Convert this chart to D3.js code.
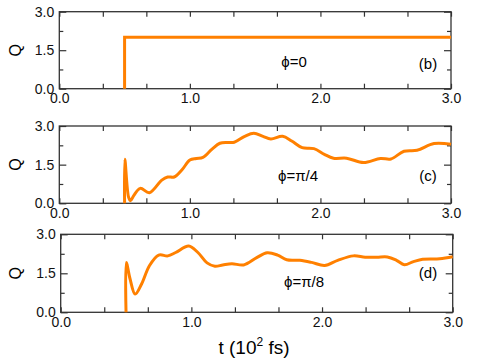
<!DOCTYPE html>
<html>
<head>
<meta charset="utf-8">
<script src="https://cdn.jsdelivr.net/npm/d3@7"></script>
<style>
	body { margin: 0; background: #fff; }
	svg { display: block; font-family: "Liberation Sans", Arial, sans-serif; }
	.axis path { display: none; }
	.axis line { stroke: #333; stroke-width: 1.2; }
	.axis text { font-size: 14px; fill: #111; }
</style>
</head>
<body>
<svg id="chart"></svg>
<script>
// panel (b): phi = 0, a step
const tB = [0.5, 0.5, 3.0];
const qB = [0, 2.0, 2.0];

// panel (c): phi = pi/4
const tC = [0.5, 0.502, 0.53, 0.545, 0.57, 0.62, 0.69, 0.785, 0.83, 0.88, 0.94, 1.0, 1.05, 1.1, 1.17, 1.23, 1.29, 1.34, 1.42, 1.49, 1.56, 1.62, 1.71, 1.78, 1.86, 1.95, 2.03, 2.1, 2.2, 2.33, 2.46, 2.54, 2.64, 2.74, 2.87, 3.0];
const qC = [0, 1.71, 0.25, 0.1, 0.3, 0.58, 0.41, 0.9, 1.02, 1.02, 1.3, 1.68, 1.74, 1.78, 2.1, 2.33, 2.36, 2.37, 2.6, 2.72, 2.6, 2.5, 2.6, 2.42, 2.16, 2.12, 1.9, 1.75, 1.75, 1.58, 1.74, 1.72, 2.02, 2.06, 2.32, 2.29];

// panel (d): phi = pi/8
const tD = [0.5, 0.502, 0.53, 0.57, 0.62, 0.68, 0.75, 0.82, 0.88, 0.98, 1.05, 1.12, 1.18, 1.24, 1.31, 1.4, 1.5, 1.58, 1.66, 1.73, 1.83, 1.92, 2.02, 2.12, 2.24, 2.33, 2.42, 2.5, 2.57, 2.63, 2.7, 2.77, 2.9, 3.0];
const qD = [0, 1.92, 1.3, 0.7, 1.1, 1.8, 2.2, 2.17, 2.3, 2.55, 2.3, 1.9, 1.77, 1.82, 1.87, 1.82, 2.1, 2.29, 2.2, 2.02, 2.0, 1.92, 1.8, 2.0, 2.17, 2.12, 2.12, 2.13, 2.0, 1.83, 1.95, 2.04, 2.06, 2.14];

const xMajor = [0, 1, 2, 3];
const xMinor = [1 / 3, 2 / 3, 4 / 3, 5 / 3, 7 / 3, 8 / 3];
const yMajor = [0, 1.5, 3];
const yMinor = [0.75, 2.25];

const panels = [
	{ t: tB, q: qB, label: "\u03d5=0", tag: "(b)", top: 11.7, bottom: 88.7, left: 59.3, right: 451, lx: 294, ly: 67, tagY: 69, step: true },
	{ t: tC, q: qC, label: "\u03d5=\u03c0/4", tag: "(c)", top: 126, bottom: 203.3, left: 59.3, right: 451, lx: 298, ly: 181, tagY: 181 },
	{ t: tD, q: qD, label: "\u03d5=\u03c0/8", tag: "(d)", top: 234.3, bottom: 312.3, left: 60.7, right: 452.7, lx: 304, ly: 287, tagY: 278 },
];

const w = 485;
const h = 363;
const svg = d3.select("#chart").attr("width", w).attr("height", h);

panels.forEach((p) => {
	const x = d3.scaleLinear().domain([0, 3]).range([p.left, p.right]);
	const y = d3.scaleLinear().domain([0, 3]).range([p.bottom, p.top]);
	const fmt = d3.format(".1f");

	// ticks (all pointing inward)
	svg.append("g").attr("class", "axis").attr("transform", `translate(0,${p.bottom})`)
		.call(d3.axisBottom(x).tickValues(xMajor).tickSize(-5).tickPadding(4.5).tickFormat(fmt));
	svg.append("g").attr("class", "axis").attr("transform", `translate(0,${p.bottom})`)
		.call(d3.axisBottom(x).tickValues(xMinor).tickSize(-5).tickFormat(""));
	svg.append("g").attr("class", "axis").attr("transform", `translate(0,${p.top})`)
		.call(d3.axisTop(x).tickValues(xMajor.concat(xMinor)).tickSize(-5).tickFormat(""));
	svg.append("g").attr("class", "axis").attr("transform", `translate(${p.left},0)`)
		.call(d3.axisLeft(y).tickValues(yMajor).tickSize(-7).tickPadding(5).tickFormat(fmt));
	svg.append("g").attr("class", "axis").attr("transform", `translate(${p.left},0)`)
		.call(d3.axisLeft(y).tickValues(yMinor).tickSize(-4).tickFormat(""));
	svg.append("g").attr("class", "axis").attr("transform", `translate(${p.right},0)`)
		.call(d3.axisRight(y).tickValues(yMajor).tickSize(-7).tickFormat(""));
	svg.append("g").attr("class", "axis").attr("transform", `translate(${p.right},0)`)
		.call(d3.axisRight(y).tickValues(yMinor).tickSize(-4).tickFormat(""));

	// frame
	svg.append("rect")
		.attr("x", p.left).attr("y", p.top)
		.attr("width", p.right - p.left).attr("height", p.bottom - p.top)
		.attr("fill", "none").attr("stroke", "#333").attr("stroke-width", 1.3);

	// the curve
	const pts = p.t.map((t, i) => [t, p.q[i]]);
	const line = d3.line()
		.x((d) => x(d[0]))
		.y((d) => y(d[1]))
		.curve(p.step ? d3.curveLinear : d3.curveCatmullRom.alpha(0.5));
	svg.append("path")
		.datum(pts)
		.attr("d", line)
		.attr("fill", "none")
		.attr("stroke", "#ff8000")
		.attr("stroke-width", 3)
		.attr("stroke-linejoin", "miter");

	// y label
	svg.append("text")
		.attr("transform", `translate(21,${(p.top + p.bottom) / 2}) rotate(-90)`)
		.attr("text-anchor", "middle")
		.style("font-size", "16px")
		.text("Q");

	// annotations
	svg.append("text").attr("x", p.lx).attr("y", p.ly)
		.attr("text-anchor", "middle").style("font-size", "15px").text(p.label);
	svg.append("text").attr("x", 428).attr("y", p.tagY)
		.attr("text-anchor", "middle").style("font-size", "15px").text(p.tag);
});

// x axis title
const xt = svg.append("text").attr("x", 254).attr("y", 354)
	.attr("text-anchor", "middle").style("font-size", "19px");
xt.append("tspan").text("t (10");
xt.append("tspan").attr("dy", -8).style("font-size", "12px").text("2");
xt.append("tspan").attr("dy", 8).text(" fs)");
</script>
</body>
</html>
